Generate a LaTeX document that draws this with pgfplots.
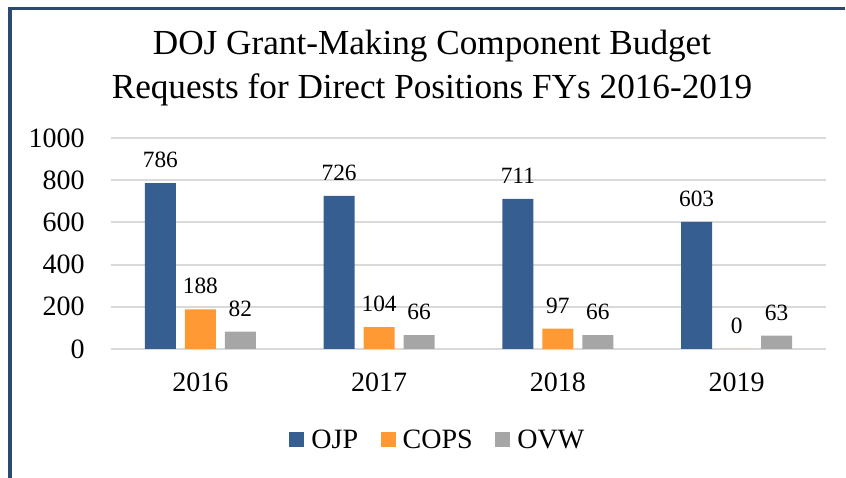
\documentclass[border=0pt]{standalone}
\usepackage{fontspec}
\setmainfont{Liberation Serif}
\usepackage{pgfplots}
\pgfplotsset{compat=1.18}
\definecolor{ojp}{HTML}{375E91}
\definecolor{cops}{HTML}{FF9933}
\definecolor{ovw}{HTML}{A6A6A6}
\definecolor{frame}{HTML}{2C4A6E}
\definecolor{gridc}{HTML}{D9D9D9}
\begin{document}
\begin{tikzpicture}
\useasboundingbox (0,0) rectangle (634.5pt,358.5pt);
% frame
\draw[frame, line width=2pt] (6pt,352pt) -- (633.75pt,352pt);
\draw[frame, line width=3pt] (7.5pt,353pt) -- (7.5pt,0pt);
% title
\node[anchor=base, inner sep=0pt, font=\fontsize{26.4pt}{30pt}\selectfont] at (324pt,317.25pt) {DOJ Grant-Making Component Budget};
\node[anchor=base, inner sep=0pt, font=\fontsize{26.4pt}{30pt}\selectfont] at (324pt,284.25pt) {Requests for Direct Positions FYs 2016-2019};
\begin{axis}[
  at={(83.25pt,96.75pt)}, anchor=south west,
  scale only axis, width=536.25pt, height=158.25pt,
  xmin=-0.5, xmax=3.5, ymin=0, ymax=1000,
  axis line style={draw=none},
  ytick={0,200,400,600,800,1000},
  xtick={0,1,2,3}, xticklabels={2016,2017,2018,2019},
  major tick length=0pt,
  ymajorgrids, grid style={color=gridc, line width=1.5pt},
  /pgf/number format/assume math mode=true,
  /pgf/number format/1000 sep={},
  yticklabel style={font=\fontsize{21pt}{25pt}\selectfont, inner sep=0pt, anchor=east, xshift=-19.5pt},
  xticklabel style={font=\fontsize{21pt}{25pt}\selectfont, inner sep=0pt, anchor=north, yshift=-18pt},
  ybar=6.75pt, bar width=23.25pt,
  nodes near coords,
  every node near coord/.append style={font=\fontsize{17.5pt}{21pt}\selectfont, anchor=base, inner sep=0pt, yshift=11.5pt, text=black},
  legend columns=3,
  legend style={at={(0.4399,-0.431)}, anchor=center, draw=none, font=\fontsize{21pt}{25pt}\selectfont,
    nodes={inner sep=0pt}, column sep=0pt},
  legend image code/.code={\path (-17pt,0pt); \fill[#1] (0pt,-5.6pt) rectangle (11.25pt,5.6pt); \path (16.5pt,0pt);},
]
\addplot[fill=ojp, draw=none] coordinates {(0,786) (1,726) (2,711) (3,603)};
\addplot[fill=cops, draw=none] coordinates {(0,188) (1,104) (2,97) (3,0)};
\addplot[fill=ovw, draw=none] coordinates {(0,82) (1,66) (2,66) (3,63)};
\legend{OJP,COPS,OVW}
\end{axis}
\end{tikzpicture}
\end{document}
